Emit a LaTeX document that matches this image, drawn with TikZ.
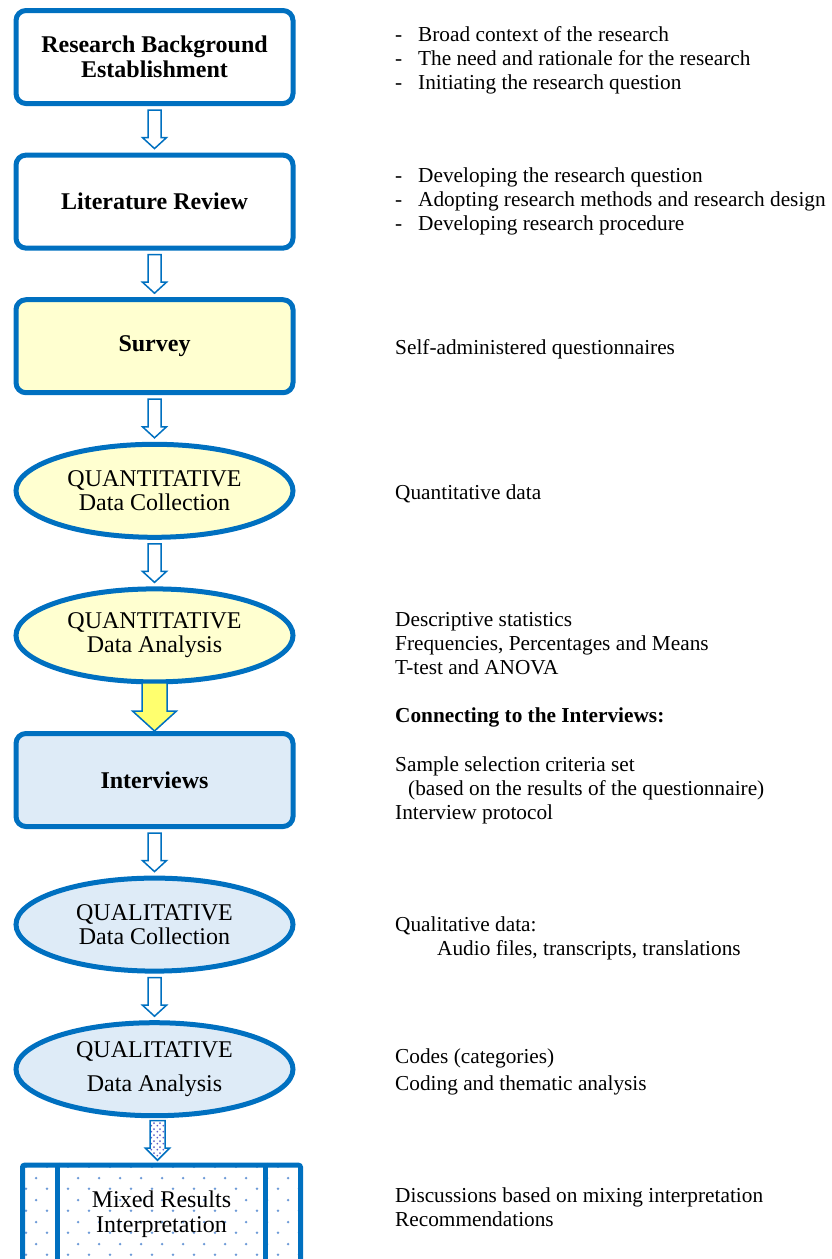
\documentclass[tikz,border=0pt]{standalone}
\usepackage{fontspec}
\setmainfont{Liberation Serif}
\usetikzlibrary{positioning,shapes.geometric,calc,patterns.meta}

\definecolor{boxblue}{RGB}{0,112,192}
\definecolor{paleyellow}{RGB}{255,255,208}
\definecolor{paleblue}{RGB}{222,235,247}
\definecolor{arrowyellow}{RGB}{255,255,110}
\definecolor{dotblue}{RGB}{110,155,215}
\definecolor{dotpurple}{RGB}{95,95,200}

\tikzdeclarepattern{name=boxdots, type=uncolored,
  bounding box={(0pt,0pt) and (21pt,22pt)}, tile size={(21pt,22pt)},
  code={\fill (5.25pt,5.5pt) circle [radius=1.4pt];
        \fill (15.75pt,16.5pt) circle [radius=1.4pt];}}
\tikzdeclarepattern{name=arrowdots, type=uncolored,
  bounding box={(0pt,0pt) and (6pt,6pt)}, tile size={(6pt,6pt)},
  code={\fill (1.5pt,1.5pt) circle [radius=1.1pt];
        \fill (4.5pt,4.5pt) circle [radius=1.1pt];}}

% block arrow: [style]{from}{to}{half shaft}{half head}{head length}
\newcommand{\flowarrow}[6][]{%
  \draw[#1] let \p1=(#2), \p2=(#3) in
    (\x1-#4pt,\y1) -- (\x1+#4pt,\y1) -- (\x1+#4pt,\y2+#6pt) -- (\x1+#5pt,\y2+#6pt)
    -- (\x1,\y2) -- (\x1-#5pt,\y2+#6pt) -- (\x1-#4pt,\y2+#6pt) -- cycle;}
\newcommand{\listdash}{\makebox[23pt][l]{-}}

\begin{document}
\begin{tikzpicture}[x=1pt, y=-1pt, node distance=46.6pt,
    stage/.style={draw=boxblue, line width=5pt, rounded corners=10pt, fill=white,
      minimum width=277pt, minimum height=93pt, inner sep=0pt, align=center,
      font=\fontsize{24}{25}\selectfont\bfseries},
    phase/.style={ellipse, draw=boxblue, line width=5pt, minimum width=277pt,
      minimum height=93pt, inner sep=0pt, align=center,
      font=\fontsize{24}{24}\selectfont},
    notes/.style={anchor=west, align=left, inner sep=0pt,
      font=\fontsize{21.3}{24}\selectfont},
    hollow/.style={draw=boxblue, line width=1.5pt, fill=white, line join=miter}]
  \clip (0,0) rectangle (832,1259);

  % left column
  \node[stage] (backg) at (154.5,57) {Research Background\\Establishment};
  \node[stage, below=of backg] (litrev) {Literature Review};
  \node[stage, fill=paleyellow, below=of litrev] (surv) {Survey};
  \node[phase, fill=paleyellow, below=of surv] (quandc) {QUANTITATIVE\\Data Collection};
  \node[phase, fill=paleyellow, below=of quandc] (quanda) {QUANTITATIVE\\Data Analysis};
  \node[stage, fill=paleblue, below=of quanda] (intv) {Interviews};
  \node[phase, fill=paleblue, below=of intv] (qualdc) {QUALITATIVE\\Data Collection};
  \node[phase, fill=paleblue, below=of qualdc] (qualda) {QUALITATIVE\\[10pt]Data Analysis};
  \node[draw=boxblue, line width=5pt, rounded corners=2pt, minimum width=278pt,
    minimum height=99pt, inner sep=0pt, align=center, pattern=boxdots,
    pattern color=dotblue, font=\fontsize{24}{25}\selectfont,
    below=44.5pt of qualda, xshift=7pt] (mixed) {Mixed Results\\Interpretation};
  \draw[boxblue, line width=5pt] ([xshift=37.5pt]mixed.north west) -- ([xshift=37.5pt]mixed.south west);
  \draw[boxblue, line width=5pt] ([xshift=-37.5pt]mixed.north east) -- ([xshift=-37.5pt]mixed.south east);

  % arrows
  \flowarrow[hollow]{[yshift=-4pt]backg.south}{[yshift=4pt]litrev.north}{6.5}{12}{11}
  \flowarrow[hollow]{[yshift=-4pt]litrev.south}{[yshift=4pt]surv.north}{6.5}{12}{11}
  \flowarrow[hollow]{[yshift=-4pt]surv.south}{[yshift=4pt]quandc.north}{6.5}{12}{11}
  \flowarrow[hollow]{[yshift=-4pt]quandc.south}{[yshift=4pt]quanda.north}{6.5}{12}{11}
  \flowarrow[hollow, fill=arrowyellow]{[yshift=1.5pt]quanda.south}{intv.north}{12.5}{22}{20}
  \flowarrow[hollow]{[yshift=-4pt]intv.south}{[yshift=4pt]qualdc.north}{6.5}{12}{11}
  \flowarrow[hollow]{[yshift=-4pt]qualdc.south}{[yshift=4pt]qualda.north}{6.5}{12}{11}
  \flowarrow[hollow, pattern=arrowdots, pattern color=dotpurple]{[xshift=3pt,yshift=-2.5pt]qualda.south}{[xshift=-4pt,yshift=2.5pt]mixed.north}{7.5}{12}{12}

  % right column
  \node[notes] (bgnotes) at (395,60) {\listdash Broad context of the research\\
    \listdash The need and rationale for the research\\
    \listdash Initiating the research question};
  \node[notes] (litnotes) at (395,201) {\listdash Developing the research question\\
    \listdash Adopting research methods and research design\\
    \listdash Developing research procedure};
  \node[notes] (survnotes) at (395,349) {Self-administered questionnaires};
  \node[notes] (quandcnotes) at (395,494) {Quantitative data};
  \node[notes] (quandanotes) at (395,644) {Descriptive statistics\\
    Frequencies, Percentages and Means\\T-test and ANOVA};
  \node[notes, font=\fontsize{21.3}{24}\selectfont\bfseries] (connect) at (395,717) {Connecting to the Interviews:};
  \node[notes] (intvnotes) at (395,790) {Sample selection criteria set\\
    \hspace*{13pt}(based on the results of the questionnaire)\\Interview protocol};
  \node[notes] (qualdcnotes) at (395,938) {Qualitative data:\\
    \hspace*{42pt}Audio files, transcripts, translations};
  \node[notes, font=\fontsize{21.3}{27}\selectfont] (qualdanotes) at (395,1071.5) {Codes (categories)\\
    Coding and thematic analysis};
  \node[notes] (mixednotes) at (395,1207) {Discussions based on mixing interpretation\\
    Recommendations};
\end{tikzpicture}
\end{document}
